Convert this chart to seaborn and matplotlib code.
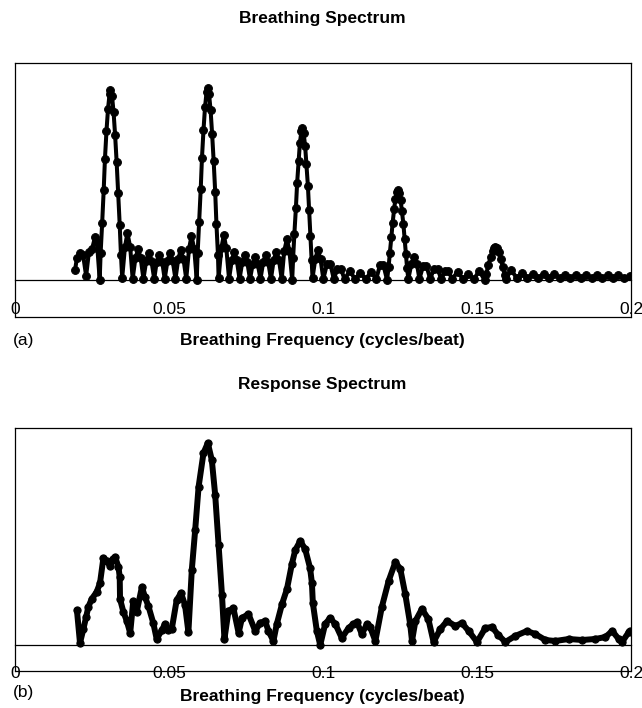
import numpy as np
import pandas as pd
import matplotlib
matplotlib.use("Agg")
import matplotlib.pyplot as plt
import seaborn as sns

# (a) breathing spectrum (frequency in cycles/beat, power arbitrary)
breath_freq = [
    0.0195, 0.0201, 0.0211, 0.0221, 0.0231, 0.0240, 0.0250, 0.0260, 0.0266, 0.0275,
    # main lobe 1
    0.0278, 0.0283, 0.0288, 0.0292, 0.0297, 0.0302, 0.0307, 0.0310,
    0.0315, 0.0320, 0.0325, 0.0330, 0.0335, 0.0340, 0.0344, 0.0348,
    # side lobes 1-2
    0.0357, 0.0365, 0.0374, 0.0382, 0.0391, 0.0400, 0.0408, 0.0417,
    0.0426, 0.0434, 0.0443, 0.0452, 0.0460, 0.0469, 0.0478, 0.0486,
    0.0495, 0.0503, 0.0512, 0.0521, 0.0530, 0.0538, 0.0547, 0.0556,
    0.0565, 0.0573, 0.0582, 0.0590,
    # main lobe 2
    0.0593, 0.0598, 0.0603, 0.0607, 0.0612, 0.0617, 0.0622, 0.0625,
    0.0630, 0.0635, 0.0640, 0.0645, 0.0650, 0.0654, 0.0659, 0.0661,
    # side lobes 2-3
    0.0670, 0.0678, 0.0686, 0.0695, 0.0704, 0.0712, 0.0720, 0.0729,
    0.0738, 0.0746, 0.0754, 0.0763, 0.0772, 0.0780, 0.0788, 0.0797,
    0.0806, 0.0814, 0.0822, 0.0831, 0.0840, 0.0848, 0.0857, 0.0866,
    0.0874, 0.0883, 0.0891, 0.0900,
    # main lobe 3
    0.0903, 0.0907, 0.0912, 0.0916, 0.0921, 0.0925, 0.0930, 0.0933,
    0.0937, 0.0942, 0.0946, 0.0951, 0.0955, 0.0959, 0.0963, 0.0966,
    # side lobes 3-4
    0.0975, 0.0983, 0.0992, 0.1001, 0.1013, 0.1024, 0.1035, 0.1047,
    0.1058, 0.1070, 0.1087, 0.1104, 0.1121, 0.1139, 0.1156, 0.1173,
    0.1185, 0.1196, 0.1208,
    # main lobe 4
    0.1213, 0.1217, 0.1222, 0.1226, 0.1231, 0.1235, 0.1240, 0.1243,
    0.1247, 0.1252, 0.1256, 0.1261, 0.1265, 0.1269, 0.1273, 0.1277,
    # side lobes 4-5
    0.1287, 0.1296, 0.1305, 0.1313, 0.1325, 0.1336, 0.1348, 0.1360,
    0.1372, 0.1384, 0.1396, 0.1407, 0.1419, 0.1437, 0.1455, 0.1472,
    0.1490, 0.1507, 0.1525,
    # main lobe 5
    0.1530, 0.1537, 0.1544, 0.1551, 0.1556, 0.1560, 0.1565, 0.1570,
    0.1577, 0.1584, 0.1590, 0.1594,
    # tail
    0.1611, 0.1629, 0.1646, 0.1663, 0.1681, 0.1698, 0.1716, 0.1733,
    0.1750, 0.1768, 0.1785, 0.1803, 0.1820, 0.1837, 0.1855, 0.1872,
    0.1890, 0.1907, 0.1925, 0.1942, 0.1959, 0.1976, 0.1998,
]
breath_power = [
    10, 22, 27, 25, 4, 28, 31, 43, 38, 0,
    27, 57, 90, 121, 149, 171, 186, 190,
    184, 168, 145, 118, 87, 55, 25, 2,
    33, 47, 33, 1, 22, 31, 22, 1,
    19, 27, 19, 1, 18, 25, 18, 1,
    19, 27, 19, 1, 21, 30, 21, 1,
    31, 44, 31, 0,
    27, 58, 91, 122, 150, 173, 188, 192,
    186, 170, 146, 119, 88, 56, 25, 2,
    32, 45, 32, 1, 20, 28, 20, 1,
    18, 25, 18, 1, 16, 23, 16, 1,
    18, 25, 18, 1, 20, 28, 20, 1,
    29, 41, 29, 0,
    22, 46, 72, 97, 119, 137, 149, 152,
    147, 134, 116, 94, 70, 44, 20, 2,
    21, 30, 21, 1, 16, 16, 1, 11,
    11, 1, 9, 1, 7, 1, 8, 1,
    15, 15, 0,
    13, 27, 43, 57, 71, 81, 88, 90,
    87, 80, 69, 56, 41, 26, 12, 1,
    16, 23, 16, 1, 14, 14, 1, 11,
    11, 1, 9, 9, 1, 8, 1, 6,
    1, 9, 0,
    6, 15, 23, 29, 32, 33, 32, 28,
    21, 13, 5, 1,
    10, 2, 7, 2, 6, 2, 6, 2,
    6, 2, 5, 2, 5, 2, 5, 2,
    5, 2, 5, 2, 5, 2, 4,
]

# (b) response spectrum
resp_freq = [
    0.0201, 0.0211, 0.0222, 0.0231, 0.0238, 0.0249, 0.0265, 0.0276,
    0.0287, 0.0298, 0.0309, 0.0317, 0.0325, 0.0336, 0.0340, 0.0341,
    0.0352, 0.0363, 0.0374, 0.0384, 0.0395, 0.0412, 0.0422, 0.0433,
    0.0449, 0.0460, 0.0477, 0.0487, 0.0498, 0.0509, 0.0525, 0.0539,
    0.0552, 0.0563, 0.0574, 0.0585, 0.0596, 0.0612, 0.0626, 0.0639,
    0.0650, 0.0661, 0.0672, 0.0680, 0.0693, 0.0709, 0.0726, 0.0737,
    0.0758, 0.0780, 0.0796, 0.0812, 0.0823, 0.0839, 0.0850, 0.0867,
    0.0883, 0.0899, 0.0910, 0.0926, 0.0942, 0.0958, 0.0964, 0.0967,
    0.0980, 0.0991, 0.1007, 0.1023, 0.1040, 0.1061, 0.1083, 0.1099,
    0.1110, 0.1126, 0.1143, 0.1153, 0.1170, 0.1191, 0.1213, 0.1235,
    0.1251, 0.1267, 0.1283, 0.1289, 0.1300, 0.1321, 0.1342, 0.1359,
    0.1381, 0.1403, 0.1430, 0.1451, 0.1473, 0.1500, 0.1527, 0.1549,
    0.1569, 0.1592, 0.1624, 0.1662, 0.1689, 0.1722, 0.1754, 0.1798,
    0.1841, 0.1884, 0.1917, 0.1939, 0.1960, 0.1971, 0.1993, 0.1998,
]
resp_power = [
    35, 2, 16, 28, 38, 46, 53, 62,
    87, 84, 79, 86, 88, 78, 68, 46,
    33, 24, 12, 44, 33, 58, 48, 39,
    22, 6, 15, 21, 15, 16, 45, 52,
    40, 13, 75, 115, 158, 192, 202, 185,
    150, 100, 50, 6, 34, 37, 12, 27,
    31, 14, 22, 24, 14, 4, 21, 41,
    56, 81, 95, 104, 96, 77, 62, 42,
    14, 0, 21, 27, 21, 7, 17, 21,
    23, 11, 21, 18, 4, 38, 64, 83,
    76, 51, 21, 4, 24, 36, 26, 3,
    16, 24, 19, 22, 14, 3, 17, 18,
    10, 3, 9, 14, 11, 5, 4, 6,
    5, 6, 8, 14, 6, 3, 13, 14,
]

ticks = [0, 0.05, 0.1, 0.15, 0.2]
tick_labels = ["0", "0.05", "0.1", "0.15", "0.2"]

sns.set_style("white")
plt.rcParams["font.family"] = ["Liberation Sans", "DejaVu Sans"]
plt.rcParams["text.color"] = "black"
plt.rcParams["xtick.color"] = "black"

fig = plt.figure(figsize=(6.42, 7.08), dpi=100)
W, H = 642, 708

panels = [
    dict(freq=breath_freq, power=breath_power, top=63, bottom=317, base=280,
         lw=2.9, ms=5.6, title="Breathing Spectrum", title_y=19, lab_y=340,
         tag="(a)", tag_y=340, pad=12.5),
    dict(freq=resp_freq, power=resp_power, top=428, bottom=671, base=645,
         lw=4.3, ms=5.2, title="Response Spectrum", title_y=385, lab_y=697,
         tag="(b)", tag_y=692, pad=11.8),
]

for p in panels:
    left, right = 15, 631
    ax = fig.add_axes([left / W, 1 - p["bottom"] / H, (right - left) / W,
                       (p["bottom"] - p["top"]) / H])
    df = pd.DataFrame({"freq": p["freq"], "power": p["power"]})
    sns.lineplot(data=df, x="freq", y="power", ax=ax, color="black",
                 linewidth=p["lw"], marker="o", markersize=p["ms"],
                 markeredgecolor="black", estimator=None, sort=False)
    ax.set_xlim(0, 0.2)
    ax.set_ylim(-(p["bottom"] - p["base"]), p["base"] - p["top"])
    ax.set_xlabel("")
    ax.set_ylabel("")
    ax.set_yticks([])
    # baseline acts as the x axis, the box is the chart frame
    ax.spines["bottom"].set_position(("data", 0))
    for s in ["bottom", "top", "left", "right"]:
        ax.spines[s].set_color("black")
        ax.spines[s].set_linewidth(0.9)
    ax.plot([0, 1], [0, 0], transform=ax.transAxes, color="black",
            linewidth=0.9, clip_on=False)
    ax.set_xticks(ticks)
    ax.set_xticklabels(tick_labels)
    ax.tick_params(axis="x", direction="out", length=3, width=0.8,
                   pad=p["pad"], labelsize=12.5, colors="black")

    fig.text(322 / W, 1 - p["title_y"] / H, p["title"], ha="center",
             va="center", fontsize=12.5, fontweight="bold", color="black")
    fig.text(322 / W, 1 - p["lab_y"] / H, "Breathing Frequency (cycles/beat)",
             ha="center", va="center", fontsize=12.5, fontweight="bold",
             color="black")
    fig.text(13 / W, 1 - p["tag_y"] / H, p["tag"], ha="left", va="center",
             fontsize=12.5, color="black")

fig.savefig("out.png", dpi=100)
